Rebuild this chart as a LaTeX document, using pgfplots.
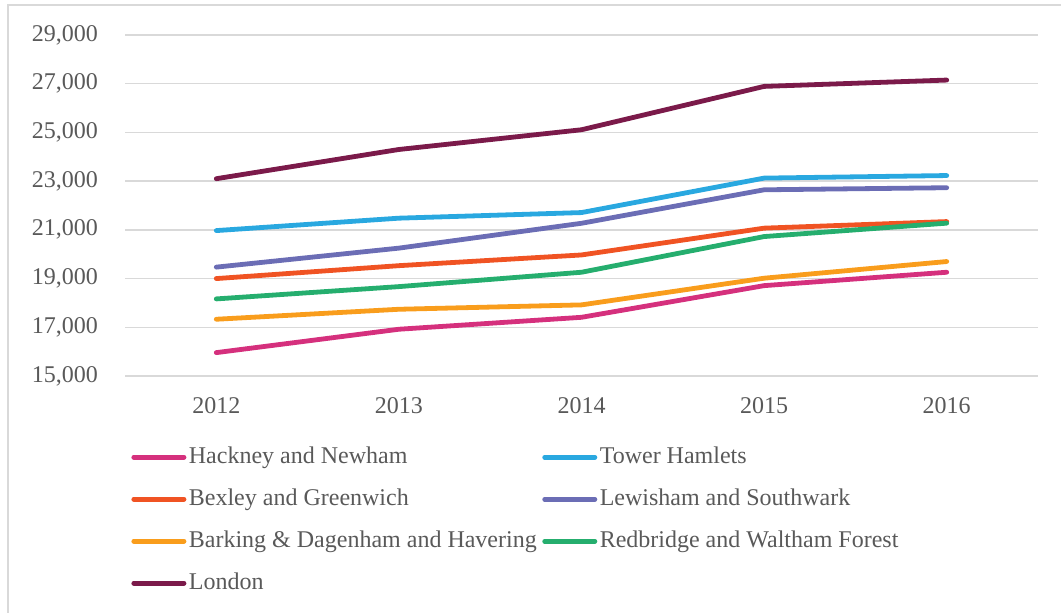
\documentclass[border=0pt]{standalone}
\usepackage{fontspec}
\setmainfont{Liberation Serif}
\usepackage{pgfplots}
\pgfplotsset{compat=1.18}
\definecolor{txtc}{HTML}{595959}
\definecolor{gridc}{HTML}{D9D9D9}
\definecolor{hack}{HTML}{D5307D}
\definecolor{tower}{HTML}{29A8E0}
\definecolor{bex}{HTML}{F05323}
\definecolor{lew}{HTML}{6B6DB5}
\definecolor{bark}{HTML}{F99D1C}
\definecolor{redb}{HTML}{25AE6E}
\definecolor{lon}{HTML}{7B1A4A}
\begin{document}
\begin{tikzpicture}[x=1pt,y=1pt]
\path[use as bounding box] (0,0) rectangle (1061,-613);
\draw[gridc, line width=1.5pt] (8,-613) -- (8,-5) -- (1061,-5);
\begin{axis}[
  at={(125pt,-376pt)}, anchor=south west,
  scale only axis, width=913pt, height=341pt,
  xmin=-0.5, xmax=4.5, ymin=15000, ymax=29000,
  xtick={0,1,2,3,4}, xticklabels={2012,2013,2014,2015,2016},
  ytick={15000,17000,19000,21000,23000,25000,27000,29000},
  scaled y ticks=false,
  /pgf/number format/.cd, 1000 sep={,}, assume math mode=true, /pgfplots/.cd,
  axis line style={draw=none},
  major tick length=0pt,
  xmajorgrids=false, ymajorgrids=true,
  y grid style={draw=gridc, line width=1.5pt},
  tick label style={font=\fontsize{24}{28}\selectfont, text=txtc, inner sep=0pt},
  yticklabel style={anchor=east, xshift=-27pt},
  xticklabel style={anchor=north, yshift=-21pt},
  legend columns=2,
  legend cell align=left,
  legend style={draw=none, fill=none, font=\fontsize{24}{28}\selectfont, text=txtc,
    at={(rel axis cs:0.0035,-0.17)}, anchor=north west,
    nodes={inner xsep=2.5pt, inner ysep=10pt, text height=17pt, text depth=5pt},
    /tikz/every even column/.append style={column sep=3pt}},
  legend image code/.code={\draw[line width=4.8pt, line cap=round] (2.4pt,0pt) -- (52.6pt,0pt);},
  every axis plot/.append style={line width=4.8pt, line join=round, line cap=round},
]
\addplot[hack] coordinates {(0,15960) (1,16920) (2,17410) (3,18710) (4,19260)};
\addlegendentry{Hackney and Newham}
\addplot[tower] coordinates {(0,20970) (1,21480) (2,21710) (3,23125) (4,23230)};
\addlegendentry{Tower Hamlets}
\addplot[bex] coordinates {(0,19000) (1,19530) (2,19970) (3,21070) (4,21340)};
\addlegendentry{Bexley and Greenwich}
\addplot[lew] coordinates {(0,19470) (1,20250) (2,21270) (3,22645) (4,22730)};
\addlegendentry{Lewisham and Southwark}
\addplot[bark] coordinates {(0,17330) (1,17740) (2,17920) (3,19015) (4,19700)};
\addlegendentry{Barking \& Dagenham and Havering}
\addplot[redb] coordinates {(0,18165) (1,18670) (2,19260) (3,20725) (4,21275)};
\addlegendentry{Redbridge and Waltham Forest}
\addplot[lon] coordinates {(0,23100) (1,24300) (2,25110) (3,26890) (4,27150)};
\addlegendentry{London}
\end{axis}
\end{tikzpicture}
\end{document}
